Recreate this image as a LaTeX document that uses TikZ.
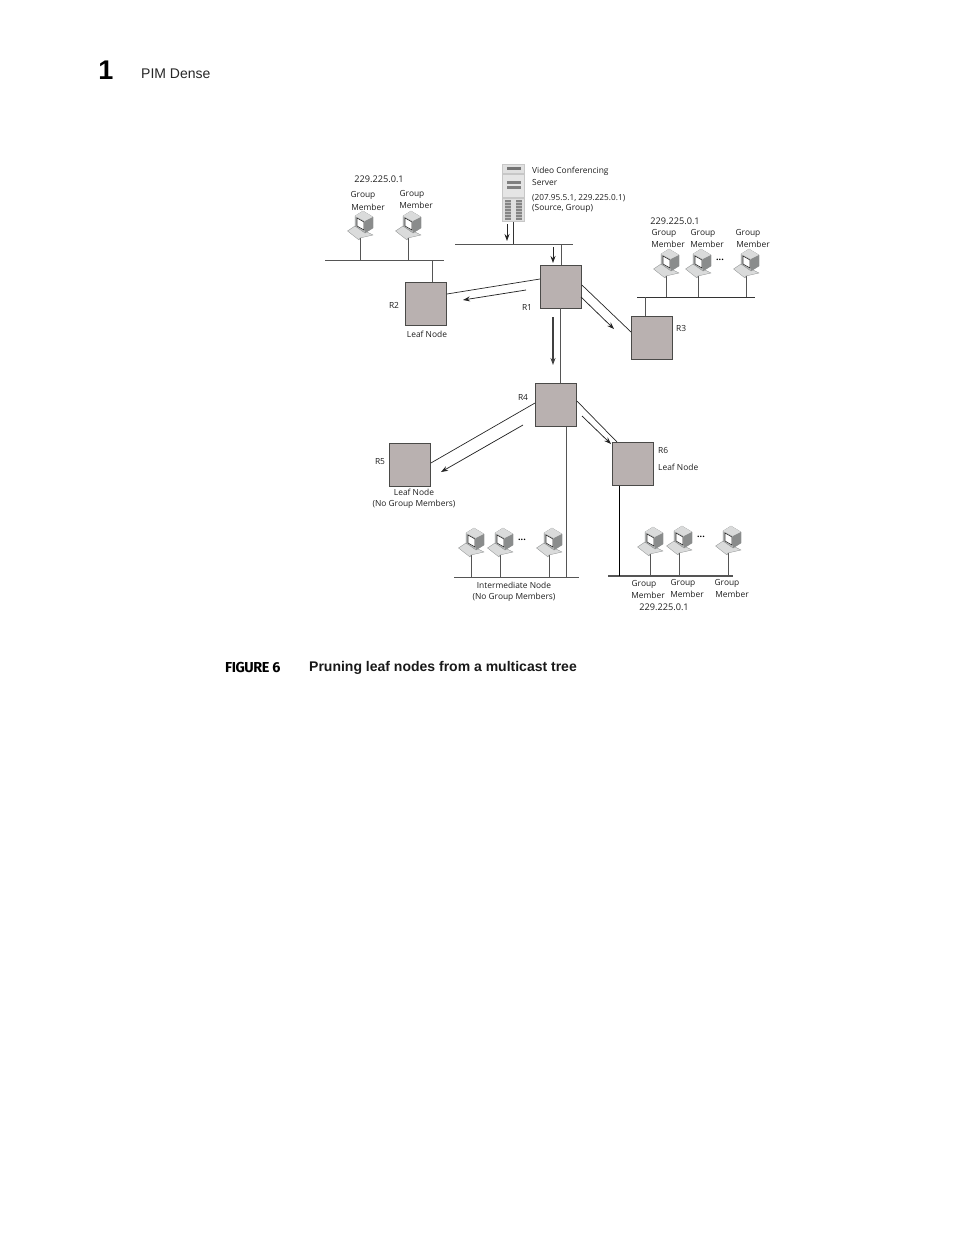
\documentclass[tikz,border=0pt]{standalone}
\usepackage{fontspec}
\setmainfont{Open Sans}
\newfontfamily\headfont{Liberation Sans}
\newfontfamily\figfont{Fira Sans}
\usetikzlibrary{arrows.meta}
\definecolor{boxfill}{HTML}{B9B1B0}
\definecolor{boxedge}{HTML}{4A4A48}
\definecolor{wire}{HTML}{555555}
\definecolor{pcbody}{HTML}{B4B6B6}
\definecolor{pclight}{HTML}{DADBDB}
\definecolor{pcdark}{HTML}{8A8C8C}
\tikzset{
 router/.style={draw=boxedge,fill=boxfill,line width=0.9pt,minimum width=41pt,minimum height=43pt,inner sep=0pt,anchor=north west},
 wireline/.style={draw=wire,line width=0.8pt},
 busline/.style={draw=wire,line width=0.9pt},
 linkline/.style={draw=black!85,line width=0.7pt},
 flowarrow/.style={draw=black!85,line width=0.75pt,-{Stealth[length=7pt,width=5pt]}},
 flowthick/.style={draw=black!75,line width=1.1pt,-{Stealth[length=7pt,width=5pt]}},
 lbl/.style={font=\fontsize{8.4}{10}\selectfont,text=black!88,inner sep=0pt,yshift=-0.7pt},
 lblw/.style={lbl,anchor=west},
 iplbl/.style={lbl,font=\fontsize{9.2}{10}\selectfont},
 dotlbl/.style={font=\bfseries\fontsize{9}{10}\selectfont,text=black,inner sep=0pt},
 pc/.pic={
  \fill[pclight,draw=pcdark,line width=0.3pt] (-12.5,-7) -- (-5,-12) -- (13,-3) -- (0,0) -- (-1,2) -- cycle;
  \fill[pcbody,draw=pcdark,line width=0.3pt] (-5,-22) -- (3,-27) -- (13,-21) -- (13,-10) -- (5,-5) -- (-5,-12) -- cycle;
  \fill[pclight] (-5,-22) -- (3,-27) -- (13,-21) -- (5,-17) -- cycle;
  \fill[pcdark] (5,-17) -- (13,-21) -- (13,-10) -- (5,-5) -- cycle;
  \fill[white,draw=black!80,line width=0.6pt] (-3,-20) -- (4,-16) -- (4,-8) -- (-3,-12) -- cycle;
  \coordinate (-base) at (0,0);
 }
}
\begin{document}
\begin{tikzpicture}[x=1pt,y=-1pt]
\useasboundingbox (0,0) rectangle (954,1235);
% page furniture
\node[font=\headfont\bfseries\fontsize{27}{27}\selectfont,inner sep=0pt] (chap) at (106,70) {1};
\node[font=\headfont\fontsize{14}{14}\selectfont,anchor=west,inner sep=0pt,text=black!85] (head) at (141,74) {PIM Dense};
\node[font=\figfont\bfseries\fontsize{14.4}{15}\selectfont,anchor=west,inner sep=0pt] (figno) at (225,667.5) {\addfontfeature{LetterSpace=-3}FIGURE 6};
\node[font=\headfont\bfseries\fontsize{14}{15}\selectfont,anchor=west,inner sep=0pt,text=black!90] (figcap) at (309,667.5) {Pruning leaf nodes from a multicast tree};

% routers
\node[router] (R1) at (540,264.5) {};
\node[router] (R2) at (405,282) {};
\node[router] (R3) at (631,316) {};
\node[router] (R4) at (535,383) {};
\node[router] (R5) at (389,443) {};
\node[router] (R6) at (612,442) {};

% server
\node[draw=none,fill=black!22,minimum width=23pt,minimum height=58pt,inner sep=0pt,anchor=north west] (srv) at (502,164) {};
\fill[black!12] (503,165) rectangle (524,173);
\fill[black!55] (507,167) rectangle (521,170);
\fill[black!10] (503,175) rectangle (524,197);
\fill[black!50] (507,181) rectangle (521,183.5);
\fill[black!50] (507,186) rectangle (521,188.5);
\fill[black!12] (503,199) rectangle (524,221);
\fill[black!48] (505,200) rectangle (511,220);
\fill[black!48] (516,200) rectangle (522,220);
\foreach \yy in {202,205,...,218}{
 \fill[black!25] (505,\yy) rectangle (511,\yy+0.8);
 \fill[black!25] (516,\yy) rectangle (522,\yy+0.8);
}

% buses
\coordinate (b1l) at (325,260); \coordinate (b1r) at (444,260);
\coordinate (b2l) at (455,244); \coordinate (b2r) at (573,244);
\coordinate (b3l) at (637,297); \coordinate (b3r) at (755,297);
\coordinate (b4l) at (454,577); \coordinate (b4r) at (579,577);
\coordinate (b5l) at (608,576); \coordinate (b5r) at (733,576);
\draw[busline] (b1l) -- (b1r);
\draw[busline] (b2l) -- (b2r);
\draw[busline,draw=black!80] (b3l) -- (b3r);
\draw[busline] (b4l) -- (b4r);
\draw[busline,line width=1.2pt] (b5l) -- (b5r);

% workstations and their drops
\foreach \nm/\xx/\yy/\bb in {a1/360/238/b1l,a2/408/238/b1l,c1/666/276/b3l,c2/698/276/b3l,c3/746/276/b3l,d1/471/555/b4l,d2/500/555/b4l,d3/549/555/b4l,e1/650/554/b5l,e2/679/553/b5l,e3/728/553/b5l}{
 \draw[wireline] (\xx,\yy) -- (\xx,\yy |- \bb);
 \pic (\nm) at (\xx,\yy) {pc};
}

% verticals
\draw[wireline] (R2.north -| 432,0) -- (432,0 |- b1l);
\draw[wireline,draw=black!80] (srv.south -| 513,0) -- (513,0 |- b2l);
\draw[wireline] (R1.north -| 561,0) -- (561,0 |- b2l);
\draw[wireline] (R3.north -| 645,0) -- (645,0 |- b3l);
\draw[wireline] (R1.south -| 560.5,0) -- (R4.north -| 560.5,0);
\draw[wireline,line width=0.7pt] (R4.south -| 566,0) -- (566,0 |- b4l);
\draw[wireline,draw=black,line width=1pt] (R6.south -| 619,0) -- (619,0 |- b5l);

% router to router links
\draw[linkline] (R1.west |- 0,279) -- (R2.east |- 0,294);
\draw[linkline] (R1.east |- 0,285) -- (R3.west |- 0,332);
\draw[linkline] (R4.west |- 0,403) -- (R5.east |- 0,463);
\draw[linkline] (R4.east |- 0,401) -- (617,442);

% flow arrows
\coordinate (f1s) at (507,224); \coordinate (f1e) at (507,241);
\coordinate (f2s) at (553,247); \coordinate (f2e) at (553,263);
\coordinate (f3s) at (526,290); \coordinate (f3e) at (463,300);
\coordinate (f4s) at (581,297); \coordinate (f4e) at (614,329);
\coordinate (f5s) at (553,317); \coordinate (f5e) at (553,365);
\coordinate (f6s) at (523,425); \coordinate (f6e) at (441,472);
\coordinate (f7s) at (582,416); \coordinate (f7e) at (611,444);
\draw[flowarrow] (f1s) -- (f1e);
\draw[flowarrow] (f2s) -- (f2e);
\draw[flowarrow] (f3s) -- (f3e);
\draw[flowarrow] (f4s) -- (f4e);
\draw[flowthick] (f5s) -- (f5e);
\draw[flowarrow] (f6s) -- (f6e);
\draw[flowarrow] (f7s) -- (f7e);

% labels
\node[lblw] (t1) at (532,171) {Video Conferencing};
\node[lblw] (t2) at (532,182) {Server};
\node[lblw,font=\fontsize{8.25}{10}\selectfont] (t3) at (532,197) {(207.95.5.1, 229.225.0.1)};
\node[lblw] (t4) at (532,208) {(Source, Group)};
\node[iplbl] (t5) at (379,179) {229.225.0.1};
\node[lbl] (t6) at (363,195) {Group};
\node[lbl] (t7) at (368,207) {Member};
\node[lbl] (t8) at (412,194) {Group};
\node[lbl] (t9) at (416,205) {Member};
\node[lbl] (t10) at (394,305) {R2};
\node[lbl] (t11) at (527,307) {R1};
\node[lbl] (t12) at (427,334) {Leaf Node};
\node[iplbl] (t13) at (675,221) {229.225.0.1};
\node[lbl] (t14) at (664,233) {Group};
\node[lbl] (t15) at (668,244) {Member};
\node[lbl] (t16) at (703,233) {Group};
\node[lbl] (t17) at (707,244) {Member};
\node[lbl] (t18) at (748,233) {Group};
\node[lbl] (t19) at (753,244) {Member};
\node[lblw] (t20) at (676,328) {R3};
\node[lbl] (t21) at (523,397) {R4};
\node[lbl] (t22) at (380,461) {R5};
\node[lblw] (t23) at (658,450) {R6};
\node[lblw] (t24) at (658,467) {Leaf Node};
\node[lbl] (t25) at (414,492) {Leaf Node};
\node[lbl] (t26) at (414,504) {(No Group Members)};
\node[lbl] (t27) at (514,585) {Intermediate Node};
\node[lbl] (t28) at (514,597) {(No Group Members)};
\node[lbl] (t29) at (644,584) {Group};
\node[lbl] (t30) at (648,595) {Member};
\node[lbl] (t31) at (683,583) {Group};
\node[lbl] (t32) at (687,594) {Member};
\node[lbl] (t33) at (727,583) {Group};
\node[lbl] (t34) at (732,594) {Member};
\node[iplbl] (t35) at (664,607) {229.225.0.1};
\node[dotlbl] (d1t) at (720,260) {...};
\node[dotlbl] (d2t) at (522,540) {...};
\node[dotlbl] (d3t) at (701,537) {...};
\end{tikzpicture}
\end{document}
